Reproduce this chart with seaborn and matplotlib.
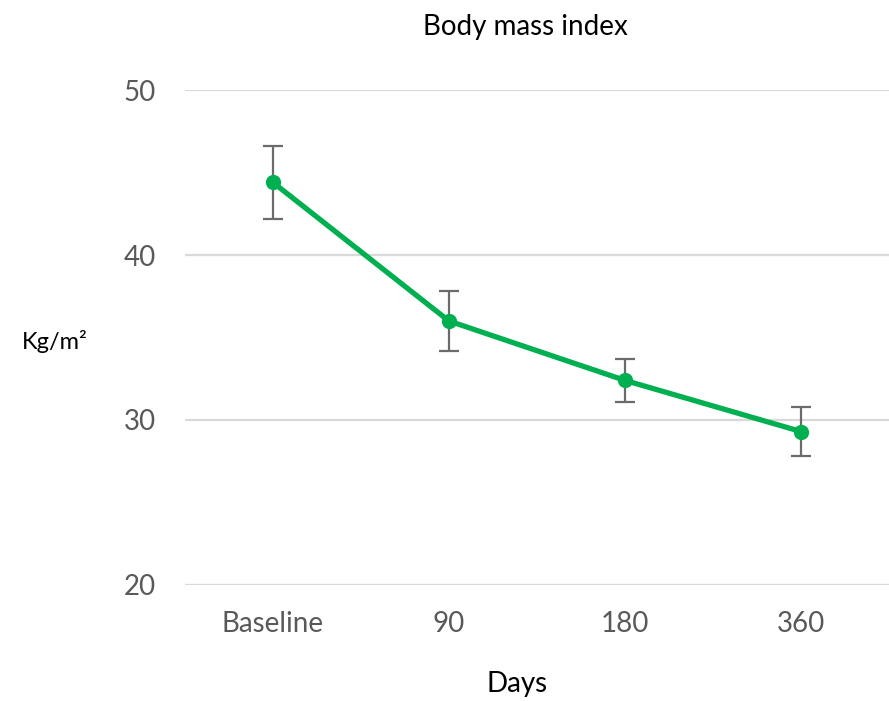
import matplotlib
matplotlib.use("Agg")
import matplotlib.pyplot as plt
import seaborn as sns
import pandas as pd

days = ["Baseline", "90", "180", "360"]
bmi = [44.4, 36.0, 32.4, 29.3]
bmi_err = [2.2, 1.8, 1.32, 1.5]
y_ticks = [20, 30, 40, 50]

sns.set_theme(style="white")
plt.rcParams["font.family"] = ["Lato", "DejaVu Sans"]

df = pd.DataFrame({"Days": days, "BMI": bmi, "err": bmi_err})

fig = plt.figure(figsize=(8.89, 7.01), dpi=100)
ax = fig.add_axes([0.208, 0.1655, 0.792, 0.7061])

pos = list(range(len(days)))
ax.errorbar(pos, df["BMI"], yerr=df["err"], fmt="none", ecolor="#6b6b6b",
            elinewidth=1.6, capsize=7, capthick=1.6, zorder=2)
sns.lineplot(x=pos, y=df["BMI"], ax=ax, color="#00B050", linewidth=3.8,
             marker="o", markersize=11, markeredgewidth=0, zorder=3)

ax.set_xlim(-0.5, 3.5)
ax.set_ylim(20, 50)
ax.set_yticks(y_ticks)
ax.set_xticks(pos)
ax.set_xticklabels(days)
ax.yaxis.grid(True, color="#d9d9d9", linewidth=1.6)
ax.xaxis.grid(False)
for s in ax.spines.values():
    s.set_visible(False)
ax.tick_params(axis="both", length=0, labelsize=20, labelcolor="#595959")
ax.tick_params(axis="y", pad=21)
ax.tick_params(axis="x", pad=19)
ax.set_xlabel("")
ax.set_ylabel("")

fig.text(0.5906, 0.961, "Body mass index", ha="center", va="center", fontsize=20, color="black")
fig.text(0.5816, 0.024, "Days", ha="center", va="center", fontsize=20, color="black")
fig.text(0.025, 0.513, "Kg/m²", ha="left", va="center", fontsize=17, color="black")

fig.savefig("out.png", dpi=100, facecolor="white")
